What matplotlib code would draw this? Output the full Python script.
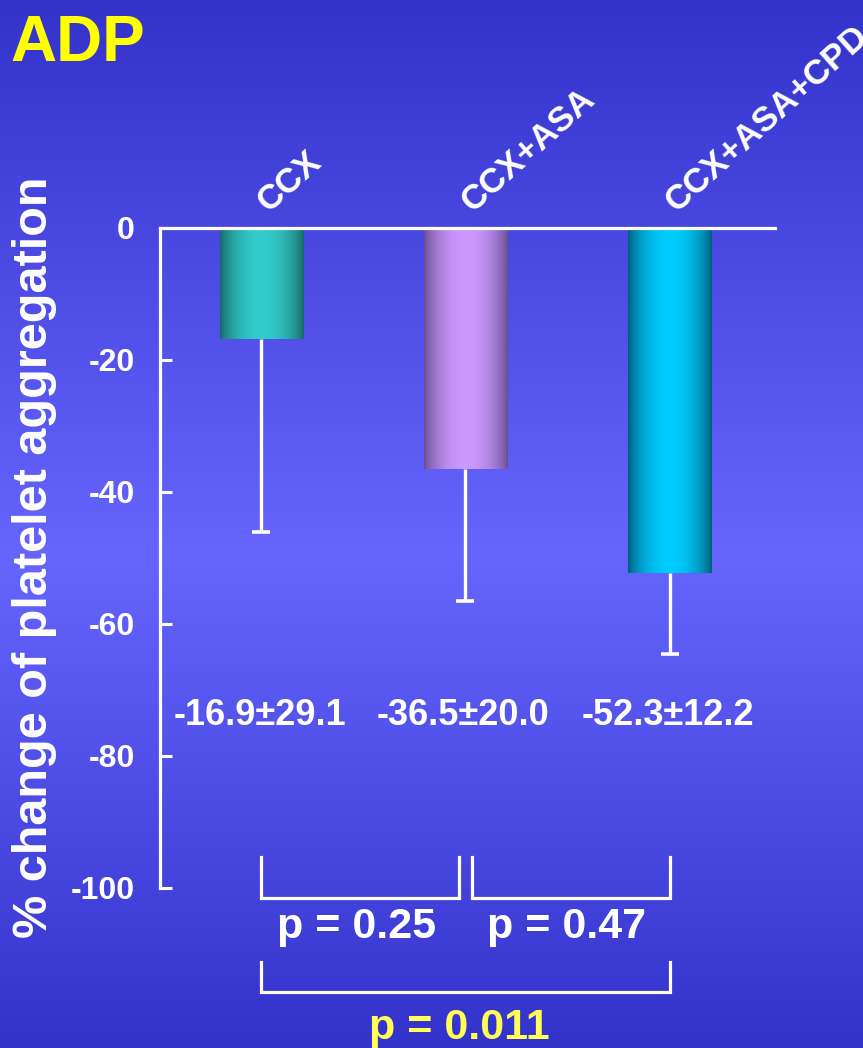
import numpy as np
import matplotlib
matplotlib.use("Agg")
import matplotlib.pyplot as plt
from matplotlib.colors import LinearSegmentedColormap

plt.rcParams['font.family'] = ['Liberation Sans', 'DejaVu Sans']
plt.rcParams['font.weight'] = 'bold'

groups = ["CCX", "CCX+ASA", "CCX+ASA+CPD"]
means = np.array([-16.9, -36.5, -52.3])
sds = np.array([29.1, 20.0, 12.2])
yticks = [0, -20, -40, -60, -80, -100]
comparisons = [(0, 1, "p = 0.25"), (1, 2, "p = 0.47"), (0, 2, "p = 0.011")]

# bar shading: (edge colour, centre colour)
bar_shades = [("#166464", "#33cccc"), ("#644c8c", "#cc99ff"), ("#005a78", "#00ccff")]

fig = plt.figure(figsize=(8.63, 10.48), dpi=100)

# slide background, dark at top and bottom, lighter in the middle
bg = fig.add_axes([0, 0, 1, 1], zorder=-10)
bg_cmap = LinearSegmentedColormap.from_list(
    "slide", [(0, "#3333cc"), (0.53, "#6666ff"), (1, "#3333cc")])
bg.imshow(np.linspace(0, 1, 256).reshape(-1, 1), cmap=bg_cmap, aspect="auto",
          extent=[0, 1, 0, 1])
bg.set_axis_off()

ax = fig.add_axes([0.1854, 0.1527, 0.7126, 0.6298])
ax.patch.set_alpha(0)

x = np.arange(len(groups))
width = 0.407
bars = ax.bar(x, means, width=width, color="none", edgecolor="none", zorder=2)

# cylinder-like horizontal shading inside each bar
t = np.linspace(0, 1, 200)
profile = np.sin(np.pi * t) ** 0.7
for patch, (dark, light) in zip(bars, bar_shades):
    c0 = np.array(matplotlib.colors.to_rgb(dark))
    c1 = np.array(matplotlib.colors.to_rgb(light))
    img = c0 + (c1 - c0) * profile[:, None]
    img = img[None, :, :]
    bb = patch.get_bbox()
    im = ax.imshow(img, extent=[bb.x0, bb.x1, bb.y0, bb.y1], aspect="auto",
                   interpolation="bilinear", zorder=2)
    im.set_clip_path(patch)

# lower error bars only
ax.errorbar(x, means, yerr=[sds, np.zeros_like(sds)], fmt="none",
            ecolor="white", elinewidth=2.4, capsize=0, zorder=3)
ax.plot(x, means - sds, linestyle="none", marker="_", markersize=12.5,
        markeredgewidth=2.6, color="white", zorder=3)

ax.set_xlim(-0.4975, 2.517)
ax.set_ylim(-100, 0)

for side in ["right", "bottom"]:
    ax.spines[side].set_visible(False)
for side in ["left", "top"]:
    ax.spines[side].set_color("white")
    ax.spines[side].set_linewidth(2.3)

ax.set_xticks([])
ax.set_yticks(yticks)
ax.set_yticklabels([str(v) for v in yticks])
ax.tick_params(axis="y", direction="in", length=8.5, width=2.2, color="white",
               labelcolor="white", labelsize=23, pad=18)
for lab in ax.get_yticklabels():
    lab.set_fontweight("bold")

# group names above the bars
for xi, name in zip(x, groups):
    ax.text(xi + 0.035, 2.2, name, rotation=42, rotation_mode="anchor",
            ha="left", va="baseline", color="white", fontsize=25,
            fontweight="bold", clip_on=False)

# mean ± SD values
for xi, m, s in zip(x, means, sds):
    ax.text(xi - 0.01, -73.8, f"{m:.1f}\u00b1{s:.1f}", ha="center", va="center",
            color="white", fontsize=26, fontweight="bold")

# comparison brackets
bracket_y = {0: (-95.3, -101.5), 1: (-111.2, -115.8)}
gap = 0.032
for i, j, label in comparisons:
    if j - i == 1:
        top, bottom = bracket_y[0]
        left = i if i == 0 else i + gap
        right = j if j == 2 else j - gap
        ax.plot([left, left, right, right], [top, bottom, bottom, top],
                color="white", lw=2.3, clip_on=False, solid_joinstyle="miter")
        ax.text((left + right) / 2 - 0.02, -105.9, label, ha="center",
                va="center", color="white", fontsize=31, fontweight="bold",
                clip_on=False)
    else:
        top, bottom = bracket_y[1]
        ax.plot([i, i, j, j], [top, bottom, bottom, top],
                color="white", lw=2.3, clip_on=False, solid_joinstyle="miter")
        ax.text((i + j) / 2 - 0.03, -121.2, label, ha="center", va="center",
                color="#ffff55", fontsize=31, fontweight="bold", clip_on=False)

fig.text(35 / 863, 1 - 557 / 1048, "% change of platelet aggregation",
         rotation=90, ha="center", va="center", color="white", fontsize=35,
         fontweight="bold")

fig.text(10 / 863, 1 - 14 / 1048, "ADP", ha="left", va="top",
         color="#ffff00", fontsize=46, fontweight="bold")

fig.savefig("out.png", dpi=100)
